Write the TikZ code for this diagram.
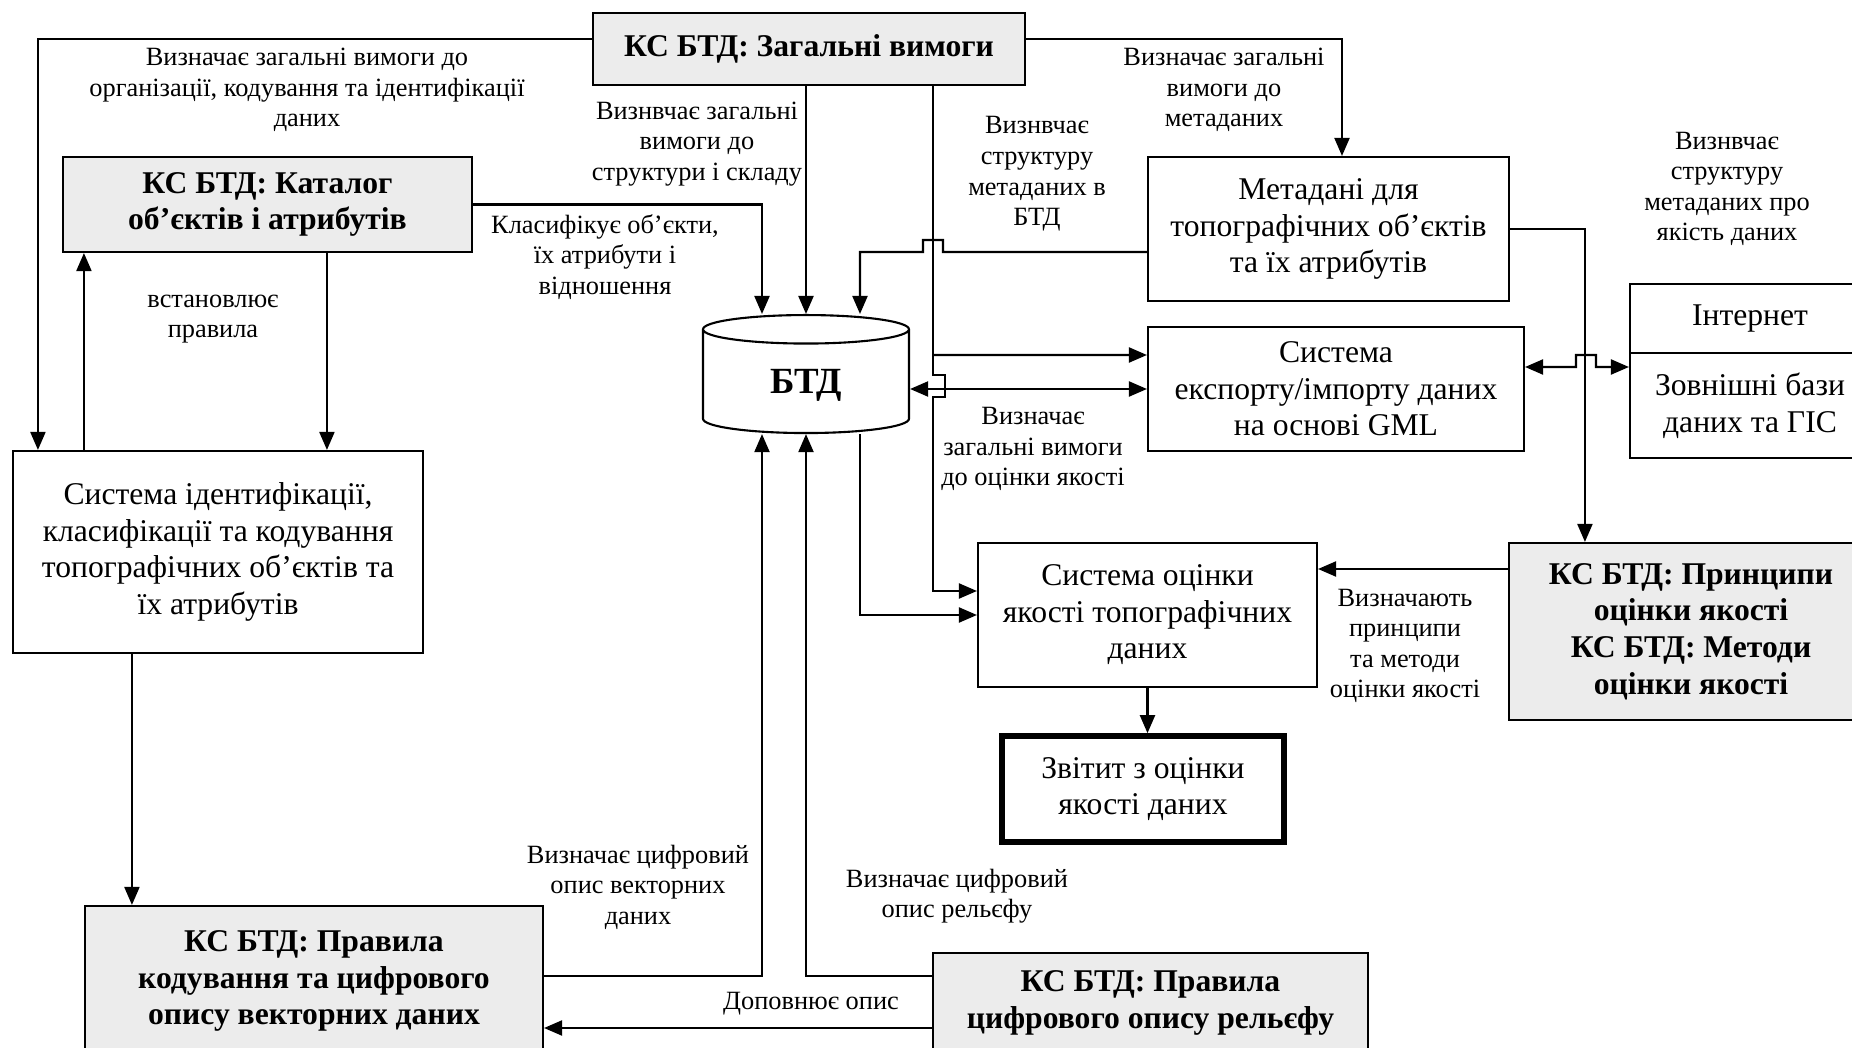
\documentclass[tikz,border=0pt]{standalone}
\usepackage{fontspec}
\setmainfont{Liberation Serif}
\usetikzlibrary{arrows.meta,shapes.geometric}

\tikzset{
	box/.style={draw, align=center, inner sep=2pt, font=\fontsize{9}{10.4}\selectfont},
	kbox/.style={box, fill=gray!15, font=\fontsize{9}{10.4}\selectfont\bfseries},
	lbl/.style={align=center, inner sep=0pt, font=\fontsize{7.5}{8.7}\selectfont},
	>={Triangle[length=1.8mm,width=1.5mm]},
}

\begin{document}
\begin{tikzpicture}[line width=0.6pt]
	\useasboundingbox (0,0) rectangle (18.52,10.47);

	\node[kbox, minimum width=4.32cm, minimum height=0.72cm] (gen) at (8.09,9.98) {КС БТД: Загальні вимоги};
	\node[kbox, minimum width=4.09cm, minimum height=0.95cm] (cat) at (2.675,8.425) {КС БТД: Каталог\\об’єктів і атрибутів};
	\node[box, minimum width=4.10cm, minimum height=2.02cm] (ident) at (2.18,4.95) {Система ідентифікації,\\класифікації та кодування\\топографічних об’єктів та\\їх атрибутів};
	\node[kbox, minimum width=4.58cm, minimum height=1.5cm] (vec) at (3.14,0.66) {КС БТД: Правила\\кодування та цифрового\\опису векторних даних};
	\node[kbox, minimum width=4.35cm, minimum height=1.0cm] (relief) at (11.505,0.44) {КС БТД: Правила\\цифрового опису рельєфу};
	\node[draw, cylinder, shape border rotate=90, aspect=0.3, minimum width=2.06cm, minimum height=1.18cm, font=\fontsize{10.5}{12}\selectfont\bfseries] (btd) at (8.06,6.62) {БТД};
	\node[box, minimum width=3.61cm, minimum height=1.44cm] (meta) at (13.285,8.18) {Метадані для\\топографічних об’єктів\\та їх атрибутів};
	\node[box, minimum width=3.76cm, minimum height=1.24cm] (exp) at (13.36,6.58) {Система\\експорту/імпорту даних\\на основі GML};
	\node[box, minimum width=2.40cm, minimum height=0.69cm] (inet) at (17.50,7.285) {Інтернет};
	\node[box, minimum width=2.40cm, minimum height=1.05cm] (ext) at (17.50,6.415) {Зовнішні бази\\даних та ГІС};
	\node[box, minimum width=3.39cm, minimum height=1.44cm] (qual) at (11.475,4.32) {Система оцінки\\якості топографічних\\даних};
	\node[kbox, minimum width=3.64cm, minimum height=1.77cm] (princ) at (16.91,4.155) {КС БТД: Принципи\\оцінки якості\\КС БТД: Методи\\оцінки якості};
	\node[box, line width=1.6pt, minimum width=2.82cm, minimum height=1.06cm] (report) at (11.43,2.58) {Звітит з оцінки\\якості даних};

	\node[lbl] (l1) at (3.07,9.57) {Визначає загальні вимоги до\\організації, кодування та ідентифікації\\даних};
	\node[lbl] (l2) at (2.13,7.28) {встановлює\\правила};
	\node[lbl] (l3) at (6.05,7.90) {Класифікує об’єкти,\\їх атрибути і\\відношення};
	\node[lbl] (l4) at (6.97,9.03) {Визнвчає загальні\\вимоги до\\структури і складу};
	\node[lbl] (l5) at (10.37,8.73) {Визнвчає\\структуру\\метаданих в\\БТД};
	\node[lbl] (l6) at (12.24,9.57) {Визначає загальні\\вимоги до\\метаданих};
	\node[lbl] (l7) at (17.27,8.58) {Визнвчає\\структуру\\метаданих про\\якість даних};
	\node[lbl] (l8) at (10.33,5.98) {Визначає\\загальні вимоги\\до оцінки якості};
	\node[lbl] (l9) at (14.05,4.01) {Визначають\\принципи\\та методи\\оцінки якості};
	\node[lbl] (l10) at (6.38,1.60) {Визначає цифровий\\опис векторних\\даних};
	\node[lbl] (l11) at (9.57,1.51) {Визначає цифровий\\опис рельєфу};
	\node[lbl] (l12) at (8.11,0.43) {Доповнює опис};

	\coordinate (sp) at (9.33,9.62);
	\coordinate (sx) at (9.33,6.92);

	\draw[->] ([yshift=1mm]gen.west) -| ([xshift=2.6mm]ident.north west);
	\draw[->] ([yshift=1mm]gen.east) -| ([xshift=1.35mm]meta.north);
	\draw[->] ([xshift=7.2mm]ident.north west) -- ([xshift=7.2mm]ident.north west |- cat.south);
	\draw[->] ([xshift=26.5mm]cat.south west) -- ([xshift=26.5mm]cat.south west |- ident.north);
	\draw[->] ([xshift=12mm]ident.south west) -- ([xshift=12mm]ident.south west |- vec.north);
	\draw[->] (cat.east) -| ([xshift=-4.4mm]btd.north);
	\draw[->] (gen.south -| btd.north) -- (btd.north);
	\draw[->] ([yshift=-2.3mm]meta.west) -- (9.43,7.95) -- ++(0,0.12) -- ++(-0.2,0) -- ++(0,-0.12) -| ([xshift=5.4mm]btd.north);
	\draw[->] (sp) -- (9.33,6.72) -- ++(0.12,0) -- ++(0,-0.22) -- ++(-0.12,0) |- ([yshift=2.4mm]qual.west);
	\draw[->] (sx) -- ([yshift=3.4mm]exp.west);
	\draw[<->] (btd.east |- exp.west) -- (exp.west);
	\draw[<->] ([yshift=2.2mm]exp.east) -- (15.76,6.80) -- ++(0,0.12) -- ++(0.2,0) -- ++(0,-0.12) -- ([yshift=3.85mm]ext.west);
	\draw[->] (meta.east) -| ([xshift=7.7mm]princ.north west);
	\draw[->] ([yshift=6.25mm]princ.west) -- ([yshift=6.25mm]princ.west -| qual.east);
	\draw[->] (qual.south) -- (qual.south |- report.north);
	\draw[->] ([xshift=5.4mm]btd.south) |- (qual.west);
	\draw[->] ([yshift=0.5mm]vec.east) -| ([xshift=-4.4mm]btd.south);
	\draw[->] ([yshift=2.7mm]relief.west) -| (btd.south);
	\draw[->] ([yshift=-2.5mm]relief.west) -- ([yshift=-2.5mm]relief.west -| vec.east);
\end{tikzpicture}
\end{document}
